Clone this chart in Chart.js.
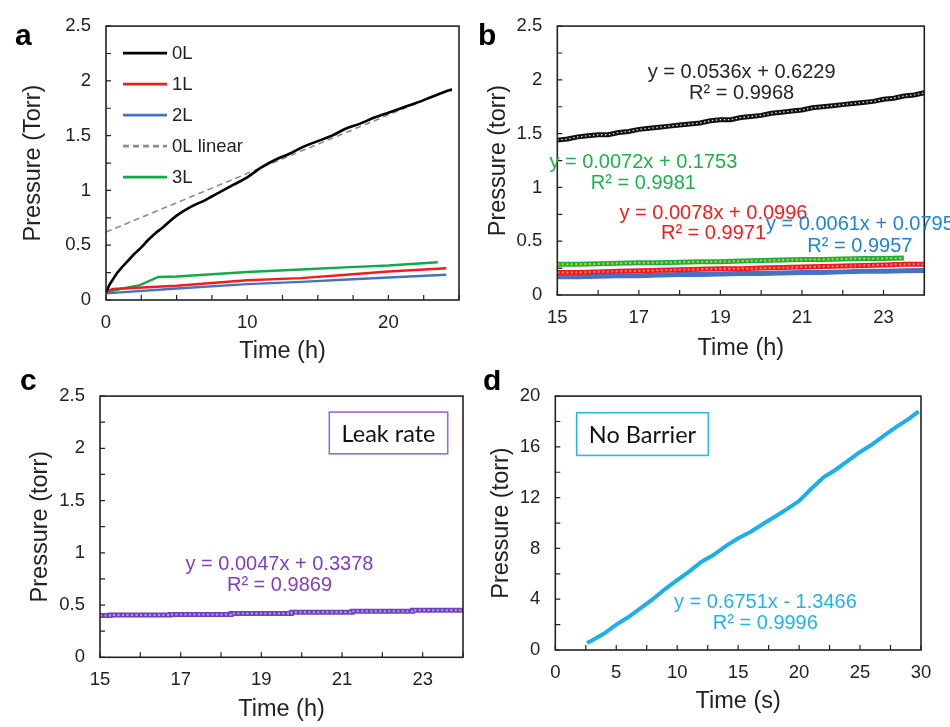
<!DOCTYPE html>
<html>
<head>
<meta charset="utf-8">
<script src="https://cdn.jsdelivr.net/npm/chart.js@4.4.1/dist/chart.umd.min.js"></script>
<style>
  html, body { margin: 0; padding: 0; background: #fff; }
  #fig { position: relative; width: 950px; height: 727px; overflow: hidden; }
  canvas { position: absolute; }
</style>
</head>
<body>
<div id="fig">
  <canvas id="pa" width="475" height="370" style="left:0;top:0"></canvas>
  <canvas id="pb" width="475" height="370" style="left:475px;top:0"></canvas>
  <canvas id="pc" width="475" height="357" style="left:0;top:370px"></canvas>
  <canvas id="pd" width="475" height="357" style="left:475px;top:370px"></canvas>
</div>
<script>
'use strict';

/* ---------- data: panel a (full run, hours) ---------- */
const aTime0L = [0, 0.25, 0.5, 0.75, 1, 1.5, 2, 2.5, 3, 3.5, 4, 5, 6, 7, 8, 9, 10, 11, 12, 13, 14, 15, 16, 17, 18, 19, 20, 21, 22, 23, 24, 24.5];
const aP0L     = [0.07, 0.14, 0.19, 0.24, 0.28, 0.35, 0.42, 0.48, 0.55, 0.61, 0.66, 0.77, 0.85, 0.91, 0.98, 1.05, 1.12, 1.21, 1.28, 1.335, 1.40, 1.45, 1.50, 1.565, 1.61, 1.665, 1.71, 1.755, 1.80, 1.85, 1.90, 1.92];
const aTimeFit = [0, 24.5];
const aPFit    = [0.62, 1.93];
const aTime1L  = [0, 0.5, 5, 10, 13.8, 17, 20, 24.1];
const aP1L     = [0.08, 0.10, 0.13, 0.18, 0.20, 0.23, 0.26, 0.29];
const aTime2L  = [0, 5, 10, 13.8, 17.5, 20, 24.1];
const aP2L     = [0.06, 0.105, 0.145, 0.165, 0.19, 0.205, 0.23];
const aTime3L  = [0, 1, 2.4, 3.7, 5, 10, 13.8, 17.3, 20, 23.5];
const aP3L     = [0.07, 0.10, 0.136, 0.21, 0.215, 0.255, 0.279, 0.30, 0.315, 0.345];
const aLabels  = ['0L', '1L', '2L', '0L linear', '3L'];

/* ---------- data: panel b (15-24 h window) ---------- */
const bTime0L = [15, 15.25, 15.5, 15.75, 16, 16.25, 16.5, 16.75, 17, 17.25, 17.5, 17.75, 18, 18.25, 18.5, 18.75, 19, 19.25, 19.5, 19.75, 20, 20.25, 20.5, 20.75, 21, 21.25, 21.5, 21.75, 22, 22.25, 22.5, 22.75, 23, 23.25, 23.5, 23.75, 24];
const bP0L    = [1.44, 1.45, 1.47, 1.48, 1.49, 1.49, 1.51, 1.52, 1.54, 1.55, 1.56, 1.57, 1.58, 1.59, 1.60, 1.62, 1.63, 1.63, 1.65, 1.66, 1.67, 1.69, 1.70, 1.71, 1.72, 1.74, 1.75, 1.76, 1.77, 1.78, 1.79, 1.80, 1.82, 1.83, 1.85, 1.86, 1.88];
const bTime   = [15, 15.5, 16, 16.5, 17, 17.5, 18, 18.5, 19, 19.5, 20, 20.5, 21, 21.5, 22, 22.5, 23, 23.5, 24];
const bP3L    = [0.285, 0.285, 0.29, 0.295, 0.30, 0.30, 0.305, 0.31, 0.31, 0.315, 0.32, 0.325, 0.33, 0.33, 0.335, 0.34, 0.34, 0.345];
const bP1L    = [0.21, 0.21, 0.215, 0.22, 0.225, 0.23, 0.235, 0.24, 0.245, 0.245, 0.25, 0.255, 0.26, 0.265, 0.27, 0.275, 0.28, 0.285, 0.287];
const bP2L    = [0.17, 0.17, 0.175, 0.18, 0.18, 0.185, 0.19, 0.19, 0.195, 0.20, 0.20, 0.205, 0.21, 0.21, 0.215, 0.22, 0.22, 0.225, 0.228];

/* ---------- data: panel c (leak rate) ---------- */
const cTime = [15, 15.5, 16, 16.5, 17, 17.5, 18, 18.5, 19, 19.5, 20, 20.5, 21, 21.5, 22, 22.5, 23, 23.5, 24];
const cP    = [0.40, 0.405, 0.405, 0.405, 0.41, 0.41, 0.41, 0.42, 0.42, 0.42, 0.43, 0.43, 0.43, 0.44, 0.44, 0.44, 0.45, 0.45, 0.45];

/* ---------- data: panel d (no barrier, seconds) ---------- */
const dTime = [2.6, 3, 4, 5, 6, 7, 8, 9, 10, 11, 12, 13, 14, 15, 16, 17, 18, 19, 20, 21, 22, 23, 24, 25, 26, 27, 28, 29, 29.8];
const dP    = [0.55, 0.75, 1.3, 2.0, 2.6, 3.3, 4.0, 4.8, 5.5, 6.2, 6.95, 7.5, 8.2, 8.8, 9.3, 9.9, 10.5, 11.1, 11.75, 12.7, 13.6, 14.2, 14.9, 15.6, 16.2, 16.9, 17.6, 18.2, 18.8];

/* ---------- tick labels ---------- */
const torrLabels  = [0, 0.5, 1, 1.5, 2, 2.5];
const hourLabelsA = [0, 10, 20];
const hourLabelsB = [15, 17, 19, 21, 23];
const secLabels   = [0, 5, 10, 15, 20, 25, 30];
const torrLabelsD = [0, 4, 8, 12, 16, 20];

const FONT = "'Liberation Sans', Arial, sans-serif";
const INK = '#222';
const TICK = 5;

function pts(xs, ys) {
  return ys.map((v, i) => ({ x: xs[i], y: v }));
}

function onlyLabels(list) {
  return v => list.some(l => Math.abs(l - v) < 1e-6) ? String(v) : '';
}

function axis(o) {
  return {
    type: 'linear',
    min: o.min, max: o.max,
    grid: { display: false, drawTicks: false },
    border: { display: false },
    ticks: {
      stepSize: o.step, autoSkip: false, maxRotation: 0, padding: o.tickPad,
      color: INK, font: { family: FONT, size: 18.5 },
      callback: onlyLabels(o.labels)
    },
    title: {
      display: true, text: o.title, color: INK,
      font: { family: FONT, size: 23.5 },
      padding: o.titlePad
    },
    afterFit: s => { if (o.width != null) s.width = o.width; if (o.height != null) s.height = o.height; }
  };
}

/* frame, inward ticks, equations, boxes, panel letter */
function makeDeco(cfg) {
  return {
    id: 'deco',
    afterDatasetsDraw(chart) {
      const { ctx, chartArea: ca, scales: { x, y } } = chart;
      ctx.save();
      ctx.strokeStyle = INK;
      ctx.lineWidth = 1.6;
      ctx.strokeRect(ca.left, ca.top, ca.right - ca.left, ca.bottom - ca.top);
      ctx.lineWidth = 1.2;
      ctx.beginPath();
      x.ticks.forEach(t => {
        const px = x.getPixelForValue(t.value);
        ctx.moveTo(px, ca.bottom); ctx.lineTo(px, ca.bottom - TICK);
      });
      y.ticks.forEach(t => {
        const py = y.getPixelForValue(t.value);
        ctx.moveTo(ca.left, py); ctx.lineTo(ca.left + TICK, py);
      });
      ctx.stroke();

      // trendline equations
      ctx.font = '20px ' + FONT;
      ctx.textAlign = 'center';
      ctx.textBaseline = 'middle';
      (cfg.notes || []).forEach(n => {
        ctx.fillStyle = n.color;
        ctx.fillText(n.text, x.getPixelForValue(n.x), y.getPixelForValue(n.y));
      });

      // boxed caption
      if (cfg.box) {
        const b = cfg.box;
        ctx.strokeStyle = b.color;
        ctx.lineWidth = 1.6;
        ctx.strokeRect(ca.left + b.dx, ca.top + b.dy, b.w, b.h);
        ctx.fillStyle = '#111';
        ctx.font = "23.5px Lato, 'Open Sans', sans-serif";
        ctx.fillText(b.text, ca.left + b.dx + b.w / 2, ca.top + b.dy + b.h / 2 + 1);
      }

      // legend inside the plot (panel a)
      if (cfg.legend) {
        ctx.font = '18.5px ' + FONT;
        ctx.textAlign = 'left';
        chart.data.datasets.forEach((ds, i) => {
          const yy = ca.top + 27 + i * 31;
          ctx.strokeStyle = ds.borderColor;
          ctx.lineWidth = 2.6;
          ctx.setLineDash(ds.borderDash || []);
          ctx.beginPath();
          ctx.moveTo(ca.left + 17, yy); ctx.lineTo(ca.left + 61, yy);
          ctx.stroke();
          ctx.setLineDash([]);
          ctx.fillStyle = INK;
          ctx.fillText(ds.label, ca.left + 66, yy + 1);
        });
      }
      ctx.restore();
    },
    afterDraw(chart) {
      const ctx = chart.ctx;
      ctx.save();
      ctx.fillStyle = '#000';
      ctx.font = 'bold 30px ' + FONT;
      ctx.textAlign = 'left';
      ctx.textBaseline = 'alphabetic';
      ctx.fillText(cfg.letter, cfg.lx, cfg.ly);
      ctx.restore();
    }
  };
}

function baseOptions(pad) {
  return {
    responsive: false,
    animation: false,
    events: [],
    layout: { padding: pad },
    plugins: { legend: { display: false }, tooltip: { enabled: false } },
    elements: { point: { radius: 0 }, line: { tension: 0 } }
  };
}

/* ---------- panel a ---------- */
new Chart(document.getElementById('pa'), {
  type: 'line',
  data: {
    datasets: [
      { label: aLabels[0], data: pts(aTime0L, aP0L), borderColor: '#000', borderWidth: 2.6, cubicInterpolationMode: 'monotone' },
      { label: aLabels[1], data: pts(aTime1L, aP1L), borderColor: '#F21C1C', borderWidth: 2.4 },
      { label: aLabels[2], data: pts(aTime2L, aP2L), borderColor: '#4472C4', borderWidth: 2.4 },
      { label: aLabels[3], data: pts(aTimeFit, aPFit), borderColor: '#8C8C8C', borderWidth: 1.6, borderDash: [6, 4] },
      { label: aLabels[4], data: pts(aTime3L, aP3L), borderColor: '#12A94A', borderWidth: 2.4 }
    ]
  },
  options: {
    ...baseOptions({ top: 25, right: 16, left: 0, bottom: 0 }),
    scales: {
      x: axis({ min: 0, max: 25, step: 2.5, labels: hourLabelsA, title: 'Time (h)', tickPad: 12, titlePad: { top: 0, bottom: 4 }, height: 70 }),
      y: axis({ min: 0, max: 2.5, step: 0.25, labels: torrLabels, title: 'Pressure (Torr)', tickPad: 15, titlePad: { top: 19, bottom: 0 }, width: 106 })
    }
  },
  plugins: [makeDeco({ letter: 'a', lx: 15, ly: 45, legend: true })]
});

/* ---------- panel b ---------- */
new Chart(document.getElementById('pb'), {
  type: 'line',
  data: {
    datasets: [
      { data: pts(bTime0L, bP0L), borderColor: 'rgba(255,255,255,0.85)', borderWidth: 1.3, borderDash: [1.5, 2.5] },
      { data: pts(bTime0L, bP0L), borderColor: '#111', borderWidth: 5 },
      { data: pts(bTime, bP3L), borderColor: '#F5C400', borderWidth: 2, borderDash: [2, 2.5] },
      { data: pts(bTime, bP3L), borderColor: '#17AF48', borderWidth: 5 },
      { data: pts(bTime, bP1L), borderColor: '#FF8A8A', borderWidth: 2, borderDash: [2, 2.5] },
      { data: pts(bTime, bP1L), borderColor: '#F41818', borderWidth: 5 },
      { data: pts(bTime, bP2L), borderColor: '#4472C4', borderWidth: 5 }
    ]
  },
  options: {
    ...baseOptions({ top: 25, right: 25.7, left: 0, bottom: 0 }),
    scales: {
      x: axis({ min: 15, max: 24, step: 1, labels: hourLabelsB, title: 'Time (h)', tickPad: 12, titlePad: { top: 0, bottom: 7.5 }, height: 75 }),
      y: axis({ min: 0, max: 2.5, step: 0.25, labels: torrLabels, title: 'Pressure (torr)', tickPad: 15, titlePad: { top: 9, bottom: 0 }, width: 82.3 })
    }
  },
  plugins: [makeDeco({
    letter: 'b', lx: 3, ly: 45,
    notes: [
      { text: 'y = 0.0536x + 0.6229', x: 19.52, y: 2.07, color: '#262626' },
      { text: 'R² = 0.9968', x: 19.52, y: 1.87, color: '#262626' },
      { text: 'y = 0.0072x + 0.1753', x: 17.11, y: 1.234, color: '#21B04B' },
      { text: 'R² = 0.9981', x: 17.11, y: 1.04, color: '#21B04B' },
      { text: 'y = 0.0078x + 0.0996', x: 18.83, y: 0.762, color: '#F21D1D' },
      { text: 'R² = 0.9971', x: 18.83, y: 0.571, color: '#F21D1D' },
      { text: 'y = 0.0061x + 0.0795', x: 22.42, y: 0.657, color: '#2283D2' },
      { text: 'R² = 0.9957', x: 22.42, y: 0.454, color: '#2283D2' }
    ]
  })]
});

/* ---------- panel c ---------- */
new Chart(document.getElementById('pc'), {
  type: 'line',
  data: {
    datasets: [
      { data: pts(cTime, cP), borderColor: '#AFA3EE', borderWidth: 2, borderDash: [2, 2.5], stepped: 'middle' },
      { data: pts(cTime, cP), borderColor: '#7040C0', borderWidth: 5, stepped: 'middle' }
    ]
  },
  options: {
    ...baseOptions({ top: 17.3, right: 7.3, left: 0, bottom: 0 }),
    scales: {
      x: axis({ min: 15, max: 24, step: 1, labels: hourLabelsB, title: 'Time (h)', tickPad: 12, titlePad: { top: 0, bottom: 3 }, height: 69.7 }),
      y: axis({ min: 0, max: 2.5, step: 0.25, labels: torrLabels, title: 'Pressure (torr)', tickPad: 15, titlePad: { top: 26, bottom: 0 }, width: 100 })
    }
  },
  plugins: [makeDeco({
    letter: 'c', lx: 20, ly: 20,
    notes: [
      { text: 'y = 0.0047x + 0.3378', x: 19.45, y: 0.885, color: '#7E3FC0' },
      { text: 'R² = 0.9869', x: 19.45, y: 0.685, color: '#7E3FC0' }
    ],
    box: { text: 'Leak rate', dx: 229.3, dy: 16, w: 118.4, h: 41.7, color: '#9A6AD0' }
  })]
});

/* ---------- panel d ---------- */
new Chart(document.getElementById('pd'), {
  type: 'line',
  data: {
    datasets: [
      { data: pts(dTime, dP), borderColor: '#1DB0E8', borderWidth: 4 }
    ]
  },
  options: {
    ...baseOptions({ top: 15.7, right: 29, left: 0, bottom: 0 }),
    scales: {
      x: axis({ min: 0, max: 30, step: 2.5, labels: secLabels, title: 'Time (s)', tickPad: 12, titlePad: { top: 0, bottom: 11 }, height: 77 }),
      y: axis({ min: 0, max: 20, step: 2, labels: torrLabelsD, title: 'Pressure (torr)', tickPad: 15, titlePad: { top: 12.5, bottom: 0 }, width: 80.3 })
    }
  },
  plugins: [makeDeco({
    letter: 'd', lx: 8, ly: 20,
    notes: [
      { text: 'y = 0.6751x - 1.3466', x: 17.23, y: 3.73, color: '#22B2EA' },
      { text: 'R² = 0.9996', x: 17.23, y: 2.07, color: '#22B2EA' }
    ],
    box: { text: 'No Barrier', dx: 21.4, dy: 16.6, w: 131.6, h: 42.7, color: '#2BB8EA' }
  })]
});
</script>
</body>
</html>
